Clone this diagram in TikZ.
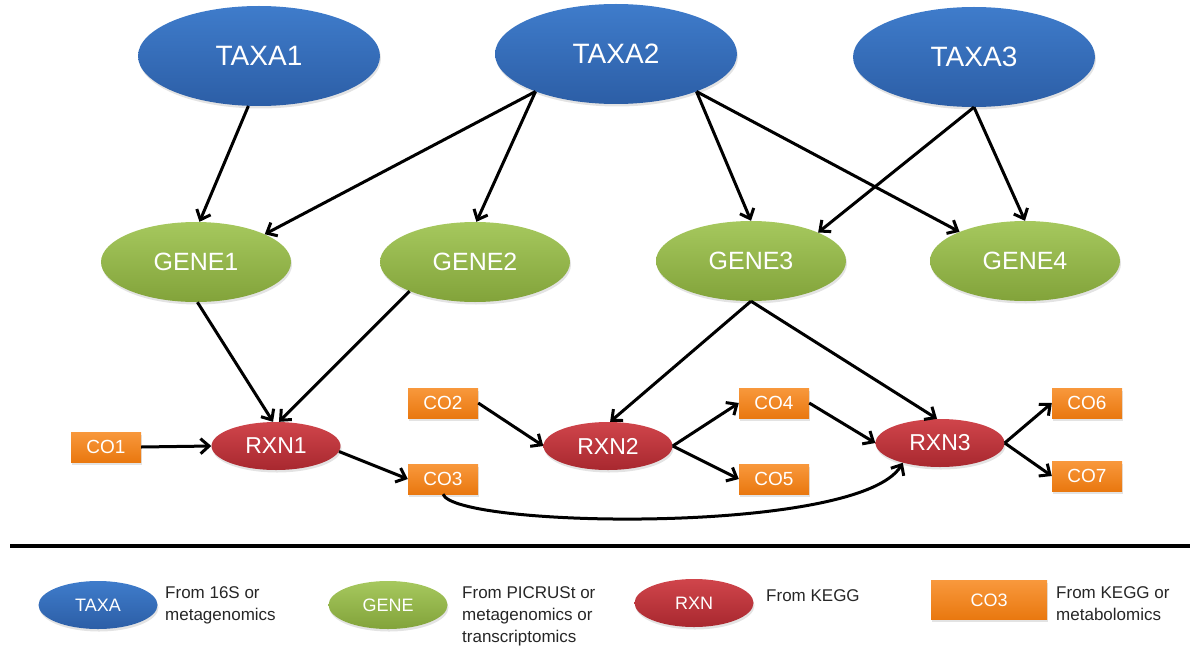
\documentclass[tikz,border=0pt]{standalone}
\usepackage{fontspec}
\setmainfont{Liberation Sans}
\usetikzlibrary{shapes.geometric,arrows.meta,shadows}
\definecolor{bluetop}{HTML}{3F7CCB}
\definecolor{bluebot}{HTML}{2C5EA6}
\definecolor{greentop}{HTML}{A6C85E}
\definecolor{greenbot}{HTML}{82A33A}
\definecolor{redtop}{HTML}{D0454B}
\definecolor{redbot}{HTML}{A8282F}
\definecolor{orangetop}{HTML}{F8983C}
\definecolor{orangebot}{HTML}{E9780F}
\tikzset{
  base/.style={inner sep=0pt, text=white, drop shadow={opacity=0.22, shadow xshift=1pt, shadow yshift=-2.5pt}},
  taxa/.style={base, ellipse, minimum width=242pt, minimum height=100pt, top color=bluetop, bottom color=bluebot, font=\fontsize{28}{32}\selectfont},
  gene/.style={base, ellipse, minimum width=190pt, minimum height=80pt, top color=greentop, bottom color=greenbot, font=\fontsize{25}{29}\selectfont},
  rxn/.style={base, ellipse, minimum width=129pt, minimum height=48pt, top color=redtop, bottom color=redbot, font=\fontsize{23}{27}\selectfont},
  comp/.style={base, rectangle, minimum width=70pt, minimum height=30pt, top color=orangetop, bottom color=orangebot, font=\fontsize{19}{22}\selectfont},
  legtaxa/.style={taxa, minimum width=119pt, minimum height=48pt, font=\fontsize{18}{21}\selectfont},
  leggene/.style={gene, minimum width=119pt, minimum height=48pt, font=\fontsize{18}{21}\selectfont},
  legrxn/.style={rxn, minimum width=119pt, minimum height=48pt, font=\fontsize{18}{21}\selectfont},
  legcomp/.style={comp, minimum width=116pt, minimum height=39pt, font=\fontsize{18}{21}\selectfont},
  legtext/.style={inner sep=0pt, anchor=north west, align=left, text=black!85, font=\fontsize{17}{22}\selectfont},
  conn/.style={line width=3pt, -{Straight Barb[length=8.5pt,width=15pt,line width=3pt]}}
}
\begin{document}
\begin{tikzpicture}[x=1pt,y=-1pt]
\useasboundingbox (0,0) rectangle (1190,650);
% top row
\node[taxa] (taxa1) at (259,56) {TAXA1};
\node[taxa] (taxa2) at (616,54) {TAXA2};
\node[taxa] (taxa3) at (974,57) {TAXA3};
% genes
\node[gene] (gene1) at (196,262) {GENE1};
\node[gene] (gene2) at (475,262) {GENE2};
\node[gene] (gene3) at (751,261) {GENE3};
\node[gene] (gene4) at (1025,261) {GENE4};
% reactions
\node[rxn] (rxn1) at (276,446) {RXN1};
\node[rxn] (rxn2) at (608,446) {RXN2};
\node[rxn] (rxn3) at (940,443) {RXN3};
% compounds
\node[comp] (co1) at (106,447) {CO1};
\node[comp] (co2) at (443,403) {CO2};
\node[comp] (co3) at (443,479) {CO3};
\node[comp] (co4) at (774,403) {CO4};
\node[comp] (co5) at (774,479) {CO5};
\node[comp] (co6) at (1087,403) {CO6};
\node[comp] (co7) at (1087,476) {CO7};
% connectors
\draw[conn] (taxa1.258) -- (gene1.85);
\draw[conn] (taxa2.205) -- (gene1.22);
\draw[conn] (taxa2.205) -- (gene2.88);
\draw[conn] (taxa2.335) -- (gene3.90);
\draw[conn] (taxa2.335) -- (gene4.156);
\draw[conn] (taxa3.270) -- (gene3.23);
\draw[conn] (taxa3.270) -- (gene4.90);
\draw[conn] (gene1.272) -- (rxn1.97);
\draw[conn] (gene2.204) -- (rxn1.83);
\draw[conn] (gene3.270) -- (rxn2.85);
\draw[conn] (gene3.270) -- (rxn3.97);
\draw[conn] (co1.east) -- (rxn1.west);
\draw[conn] (rxn1.355) -- (co3.west);
\draw[conn] (co2.east) -- (rxn2.west);
\draw[conn] (rxn2.east) -- (co4.west);
\draw[conn] (rxn2.east) -- (co5.west);
\draw[conn] (co4.east) -- (rxn3.west);
\draw[conn] (rxn3.east) -- (co6.west);
\draw[conn] (rxn3.east) -- (co7.west);
\draw[conn] (co3.south) .. controls (455,528) and (860,535) .. (rxn3.208);
% separator
\coordinate (sepL) at (10,546);
\coordinate (sepR) at (1190,546);
\draw[line width=3.5pt] (sepL) -- (sepR);
% legend
\node[legtaxa] (lt) at (98,605) {TAXA};
\node[legtext] (ltt) at (165,586) {From 16S or\\metagenomics};
\node[leggene] (lg) at (388,605) {GENE};
\node[legtext] (lgt) at (462,586) {From PICRUSt or\\metagenomics or\\transcriptomics};
\node[legrxn] (lr) at (694,603) {RXN};
\node[legtext] (lrt) at (766,589) {From KEGG};
\node[legcomp] (lc) at (989,600) {CO3};
\node[legtext] (lct) at (1056,586) {From KEGG or\\metabolomics};
\end{tikzpicture}
\end{document}
